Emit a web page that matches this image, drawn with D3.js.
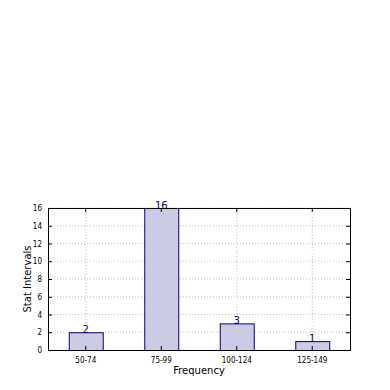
<!DOCTYPE html>
<html>
<head>
<meta charset="utf-8">
<script src="https://cdn.jsdelivr.net/npm/d3@7"></script>
<style>
  body { margin: 0; background: #fff; }
  svg { display: block; font-family: "DejaVu Sans", sans-serif; }
</style>
</head>
<body>
<svg id="chart" width="390" height="390"></svg>
<script>
// Data
var categories = ["50-74", "75-99", "100-124", "125-149"];
var counts = [2, 16, 3, 1];
var yTicks = [0, 2, 4, 6, 8, 10, 12, 14, 16];

var svg = d3.select("#chart");
var margin = { left: 48, right: 40, top: 208, bottom: 40 };
var width = 390 - margin.left - margin.right,
    height = 390 - margin.top - margin.bottom;

var g = svg.append("g")
  .attr("transform", "translate(" + margin.left + "," + margin.top + ")");

// one band per category, bar occupies 45% of the step
var x = d3.scaleBand()
  .domain(categories)
  .range([0, width])
  .paddingInner(0.55)
  .paddingOuter(0.275);
var xc = function(c) { return x(c) + x.bandwidth() / 2; };

var y = d3.scaleLinear().domain([0, 16]).range([height, 0]);

// dotted grid
g.append("g").selectAll("line.hgrid")
  .data(yTicks)
  .enter().append("line")
    .attr("x1", 0).attr("x2", width)
    .attr("y1", function(d) { return y(d); })
    .attr("y2", function(d) { return y(d); })
    .attr("stroke", "#c0c0c0")
    .attr("stroke-width", 1)
    .attr("stroke-dasharray", "1,2");

g.append("g").selectAll("line.vgrid")
  .data(categories)
  .enter().append("line")
    .attr("x1", xc).attr("x2", xc)
    .attr("y1", 0).attr("y2", height)
    .attr("stroke", "#c0c0c0")
    .attr("stroke-width", 1)
    .attr("stroke-dasharray", "1,2");

// bars
g.selectAll("rect.bar")
  .data(counts)
  .enter().append("rect")
    .attr("class", "bar")
    .attr("x", function(d, i) { return x(categories[i]) + 0.5; })
    .attr("y", function(d) { return y(d) + 0.5; })
    .attr("width", x.bandwidth())
    .attr("height", function(d) { return height - y(d); })
    .attr("fill", "#cbcbe3")
    .attr("stroke", "#000080")
    .attr("stroke-width", 1);

// value labels
g.selectAll("text.val")
  .data(counts)
  .enter().append("text")
    .attr("x", function(d, i) { return xc(categories[i]); })
    .attr("y", function(d) { return y(d) + 0.5; })
    .attr("text-anchor", "middle")
    .attr("font-size", 10)
    .attr("fill", "#000080")
    .text(function(d) { return d; });

// axes with inward ticks, matplotlib-classic style
var yAxis = d3.axisLeft(y).tickValues(yTicks).tickSizeInner(-4).tickSizeOuter(0).tickPadding(6);
var yAxisR = d3.axisRight(y).tickValues(yTicks).tickSizeInner(-4).tickSizeOuter(0).tickFormat("");
var xAxis = d3.axisBottom(x).tickSizeInner(-4).tickSizeOuter(0).tickPadding(7);
var xAxisT = d3.axisTop(x).tickSizeInner(-4).tickSizeOuter(0).tickFormat("");

function style(sel) {
  sel.select(".domain").remove();
  sel.selectAll("line").attr("stroke", "#000");
  sel.selectAll("text").attr("font-size", 8).attr("fill", "#000")
    .attr("font-family", "DejaVu Sans Condensed, DejaVu Sans");
}

g.append("g").call(yAxis).call(style);
g.append("g").attr("transform", "translate(" + width + ",0)").call(yAxisR).call(style);
g.append("g").attr("transform", "translate(0," + height + ")").call(xAxis).call(style);
g.append("g").call(xAxisT).call(style);

// frame
g.append("rect")
  .attr("x", 0.5).attr("y", 0.5)
  .attr("width", width).attr("height", height)
  .attr("fill", "none")
  .attr("stroke", "#000")
  .attr("stroke-width", 1);

// axis titles
svg.append("text")
  .attr("x", margin.left + width / 2)
  .attr("y", 374)
  .attr("text-anchor", "middle")
  .attr("font-size", 10)
  .text("Frequency");

svg.append("text")
  .attr("transform", "translate(31," + (margin.top + height / 2) + ") rotate(-90)")
  .attr("text-anchor", "middle")
  .attr("font-size", 10)
  .text("Stat Intervals");
</script>
</body>
</html>
